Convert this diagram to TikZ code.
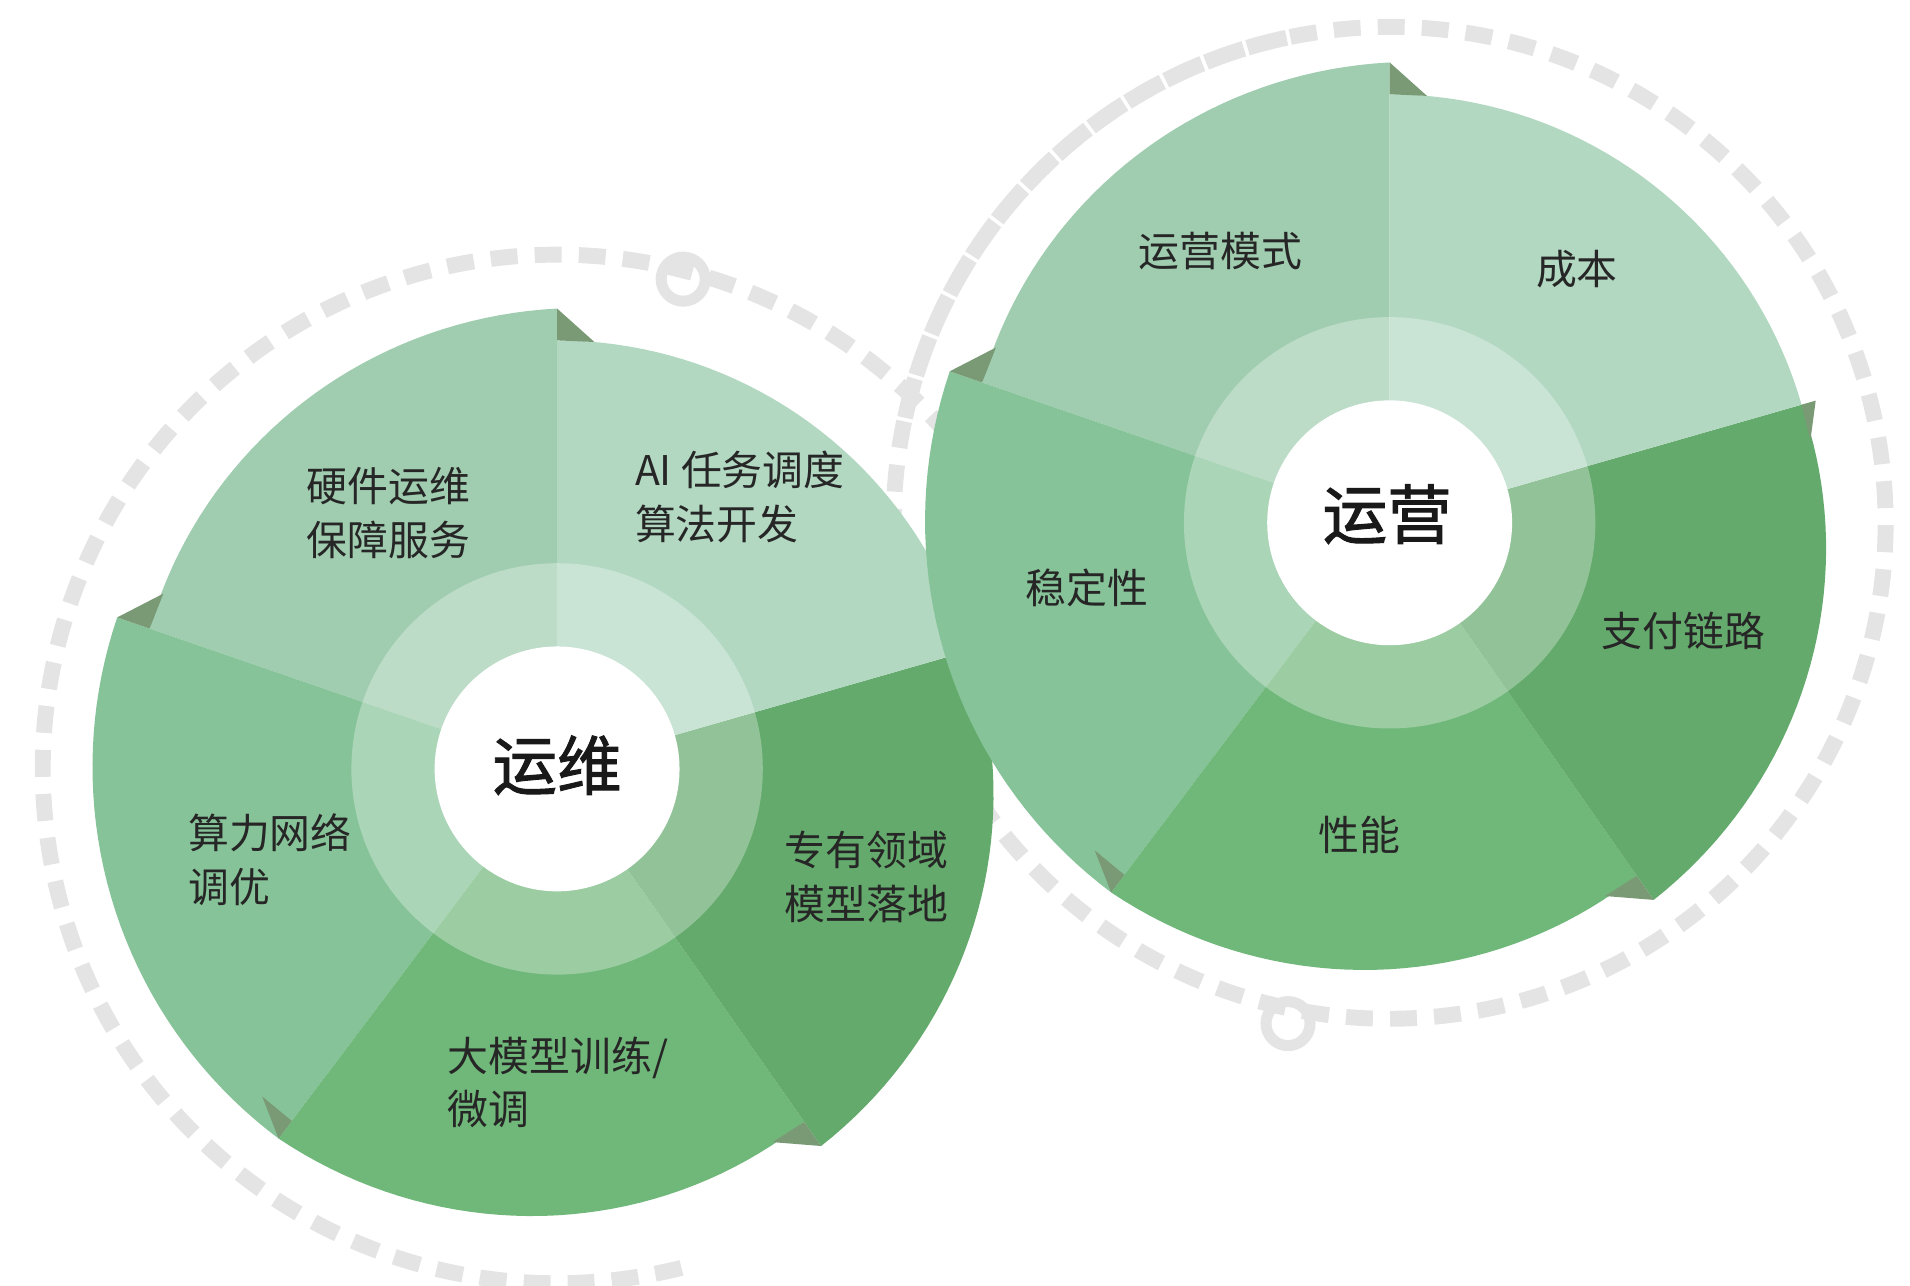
\documentclass[tikz,border=0pt]{standalone}
\usepackage{fontspec}
\setmainfont{Noto Sans CJK SC}
\newfontfamily\cjkb[FakeBold=1.5]{Noto Sans CJK SC}
\definecolor{cA}{HTML}{A0CDB0}
\definecolor{cB}{HTML}{B2D8C2}
\definecolor{cC}{HTML}{64AA6C}
\definecolor{cD}{HTML}{70B77A}
\definecolor{cE}{HTML}{87C399}
\definecolor{fold}{HTML}{7A9A76}
\definecolor{dgray}{HTML}{E4E4E4}
\newcommand{\mysector}[7]{%
 \fill[#7] (#1,#2) -- plot[domain=#3:#4,samples=40] ({#1+(#5+(#6-#5)*(\x-#3)/(#4-#3))*cos(\x)},{#2-(#5+(#6-#5)*(\x-#3)/(#4-#3))*sin(\x)}) -- cycle;}
\newcommand{\myfold}[5]{% cx cy angle rbig rsmall
 \fill[fold] ({#1+#4*cos(#3)},{#2-#4*sin(#3)}) -- ({#1+#5*cos(#3)},{#2-#5*sin(#3)}) -- ({#1+#5*cos(#3-5)},{#2-#5*sin(#3-5)}) -- cycle;}
\newcommand{\wheel}[2]{%
 \mysector{#1}{#2}{90}{161}{376}{352}{cA}
 \mysector{#1}{#2}{161}{233}{380}{378}{cE}
 \mysector{#1}{#2}{233}{305}{378}{352}{cD}
 \mysector{#1}{#2}{305}{376}{376}{350}{cC}
 \mysector{#1}{#2}{16}{90}{350}{350}{cB}
 \myfold{#1}{#2}{90}{376}{350}
 \myfold{#1}{#2}{161}{380}{352}
 \myfold{#1}{#2}{233}{378}{360}
 \myfold{#1}{#2}{305}{376}{352}
 \myfold{#1}{#2}{16}{362}{350}
 \fill[white,opacity=0.3] (#1,#2) circle (168);
 \fill[white] (#1,#2) circle (100);}
\tikzset{lbl/.style={font=\fontsize{9.5}{12.5}\selectfont,text=black!85,align=left,inner sep=0},
 ctr/.style={font=\cjkb\fontsize{15}{18}\selectfont,text=black!90,inner sep=0},
 dsh/.style={draw=dgray,line width=1.3mm,dash pattern=on 2.2mm off 1.4mm}}
\begin{document}
\begin{tikzpicture}[x=0.1mm,y=-0.1mm]
\useasboundingbox (0,0) rectangle (1560,1050);
\draw[dsh] (455,628) ++(76:420) arc[start angle=76,end angle=357,radius=420];
\draw[dgray,line width=0.9mm] (558,228) circle (18);
\draw[dsh] (1135,427) ++(-102:405) arc[start angle=258,end angle=-170,radius=405];
\draw[dgray,line width=0.9mm] (1052,836) circle (18);
\wheel{455}{628}
\wheel{1135}{427}
\node[ctr] (c1) at (455,625) {运维};
\node[ctr] (c2) at (1133,420) {运营};
\node[lbl,anchor=west] (a1) at (250,419) {硬件运维\\保障服务};
\node[lbl,anchor=west] (a2) at (518,406) {AI 任务调度\\算法开发};
\node[lbl,anchor=west] (a3) at (153,702) {算力网络\\调优};
\node[lbl,anchor=west] (a4) at (365,884) {大模型训练/\\微调};
\node[lbl,anchor=west] (a5) at (640,716) {专有领域\\模型落地};
\node[lbl] (b1) at (997,205) {运营模式};
\node[lbl] (b2) at (1288,220) {成本};
\node[lbl] (b3) at (1375,515) {支付链路};
\node[lbl] (b4) at (1110,682) {性能};
\node[lbl] (b5) at (888,480) {稳定性};
\end{tikzpicture}
\end{document}
